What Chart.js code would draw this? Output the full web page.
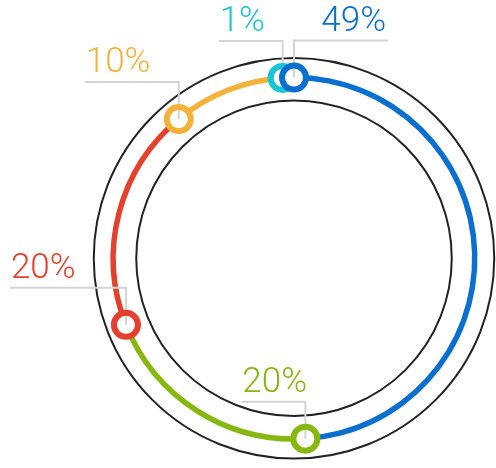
<!DOCTYPE html>
<html>
<head>
<meta charset="utf-8">
<script src="https://cdn.jsdelivr.net/npm/chart.js@4/dist/chart.umd.min.js"></script>
<style>
  html, body { margin: 0; padding: 0; background: #ffffff; }
  #wrap { width: 496px; height: 468px; position: relative; }
</style>
</head>
<body>
<div id="wrap"><canvas id="c" width="496" height="468"></canvas></div>
<script>
// ---- data ----
const segments = ['A', 'B', 'C', 'D', 'E'];
const values = [49, 20, 20, 10, 1];
const valueLabels = ['49%', '20%', '20%', '10%', '1%'];
const colors = ['#0b6fd0', '#86b811', '#e3402d', '#f4b23a', '#19c5d4'];

// ---- annotation layout (leader line run, px; + = right, - = left) ----
const leaderRun = [94, -64, -116, -94, -64];
const leaderRise = 37;

const ringPlugin = {
  id: 'ringDeco',
  beforeDatasetsDraw(chart) {
    const meta = chart.getDatasetMeta(0);
    const el = meta.data[0];
    if (!el) return;
    const ctx = chart.ctx;
    const cx = el.x, cy = el.y;
    const mid = (el.outerRadius + el.innerRadius) / 2;
    ctx.save();
    ctx.strokeStyle = '#222222';
    ctx.lineWidth = 2;
    [mid + 19.5, mid - 23].forEach(r => {
      ctx.beginPath();
      ctx.arc(cx, cy, r, 0, Math.PI * 2);
      ctx.stroke();
    });
    ctx.restore();
  },
  afterDatasetsDraw(chart) {
    const meta = chart.getDatasetMeta(0);
    const ctx = chart.ctx;
    ctx.save();
    const order = meta.data.map((_, i) => i).reverse();
    order.forEach(i => {
      const arc = meta.data[i];
      const r = (arc.outerRadius + arc.innerRadius) / 2;
      const a = arc.startAngle;
      const mx = arc.x + r * Math.cos(a);
      const my = arc.y + r * Math.sin(a);
      // marker fill
      ctx.beginPath();
      ctx.arc(mx, my, 12, 0, Math.PI * 2);
      ctx.fillStyle = '#ffffff';
      ctx.fill();
      // leader line
      const topY = my - leaderRise;
      const endX = mx + leaderRun[i];
      ctx.beginPath();
      ctx.moveTo(mx, my);
      ctx.lineTo(mx, topY);
      ctx.lineTo(endX, topY);
      ctx.strokeStyle = '#d4d4d4';
      ctx.lineWidth = 2;
      ctx.stroke();
      // marker ring
      ctx.beginPath();
      ctx.arc(mx, my, 12, 0, Math.PI * 2);
      ctx.strokeStyle = colors[i];
      ctx.lineWidth = 6;
      ctx.stroke();
      // label
      ctx.font = '300 35px Roboto, "Open Sans", sans-serif';
      ctx.fillStyle = colors[i];
      ctx.textBaseline = 'alphabetic';
      if (leaderRun[i] > 0) {
        ctx.textAlign = 'right';
        ctx.fillText(valueLabels[i], endX - 2, topY - 10);
      } else {
        ctx.textAlign = 'left';
        ctx.fillText(valueLabels[i], endX + 1, topY - 10);
      }
    });
    ctx.restore();
  }
};

new Chart(document.getElementById('c'), {
  type: 'doughnut',
  data: {
    labels: segments,
    datasets: [{
      data: values,
      backgroundColor: colors,
      borderWidth: 0,
      hoverOffset: 0
    }]
  },
  options: {
    responsive: false,
    animation: false,
    cutout: 178,
    layout: { padding: { left: 110.5, right: 18.5, top: 74.8, bottom: 26.2 } },
    plugins: {
      legend: { display: false },
      tooltip: { enabled: false }
    },
    events: []
  },
  plugins: [ringPlugin]
});
</script>
</body>
</html>
